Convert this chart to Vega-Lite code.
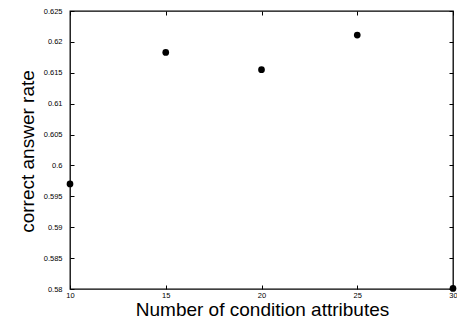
{
  "$schema": "https://vega.github.io/schema/vega-lite/v6.json",
  "width": 383,
  "height": 278,
  "autosize": {"type": "none"},
  "padding": {"left": 70, "top": 11, "right": 4, "bottom": 33},
  "config": {
    "font": "Liberation Sans",
    "view": {"stroke": "black", "strokeWidth": 1.3},
    "axis": {
      "grid": false,
      "domain": false,
      "tickColor": "black",
      "tickSize": -4,
      "tickWidth": 1,
      "labelColor": "black",
      "labelFontSize": 7.5,
      "titleColor": "black",
      "titleFont": "Liberation Sans",
      "titleFontWeight": "normal",
      "titleFontSize": 19
    }
  },
  "data": {
    "values": [
      {"attrs": 10, "rate": 0.597},
      {"attrs": 15, "rate": 0.6183},
      {"attrs": 20, "rate": 0.6155},
      {"attrs": 25, "rate": 0.6211},
      {"attrs": 30, "rate": 0.5801}
    ]
  },
  "layer": [
    {
      "mark": {"type": "point", "filled": true, "color": "black", "opacity": 1, "size": 45, "clip": false},
      "encoding": {
        "x": {"field": "attrs", "type": "quantitative", "scale": {"domain": [10, 30], "nice": false, "zero": false},
          "axis": {"values": [10, 15, 20, 25, 30], "title": "Number of condition attributes", "labelPadding": 6, "titleBaseline": "alphabetic", "titleY": 26, "titleX": 192, "labelFlush": false}},
        "y": {"field": "rate", "type": "quantitative", "scale": {"domain": [0.58, 0.625], "nice": false, "zero": false},
          "axis": {"values": [0.58, 0.585, 0.59, 0.595, 0.6, 0.605, 0.61, 0.615, 0.62, 0.625], "format": "~g", "title": "correct answer rate", "labelPadding": 12, "titleBaseline": "alphabetic", "titleX": -37, "titleY": 140, "titleAngle": -90, "labelFlush": false}}
      }
    },
    {
      "mark": {"type": "point", "opacity": 0},
      "encoding": {
        "x": {"field": "attrs", "type": "quantitative", "scale": {"domain": [10, 30], "nice": false, "zero": false},
          "axis": {"orient": "top", "values": [10, 15, 20, 25, 30], "labels": false, "title": null}},
        "y": {"field": "rate", "type": "quantitative", "scale": {"domain": [0.58, 0.625], "nice": false, "zero": false},
          "axis": {"orient": "right", "values": [0.58, 0.585, 0.59, 0.595, 0.6, 0.605, 0.61, 0.615, 0.62, 0.625], "labels": false, "title": null}}
      }
    }
  ],
  "resolve": {"axis": {"x": "independent", "y": "independent"}}
}
